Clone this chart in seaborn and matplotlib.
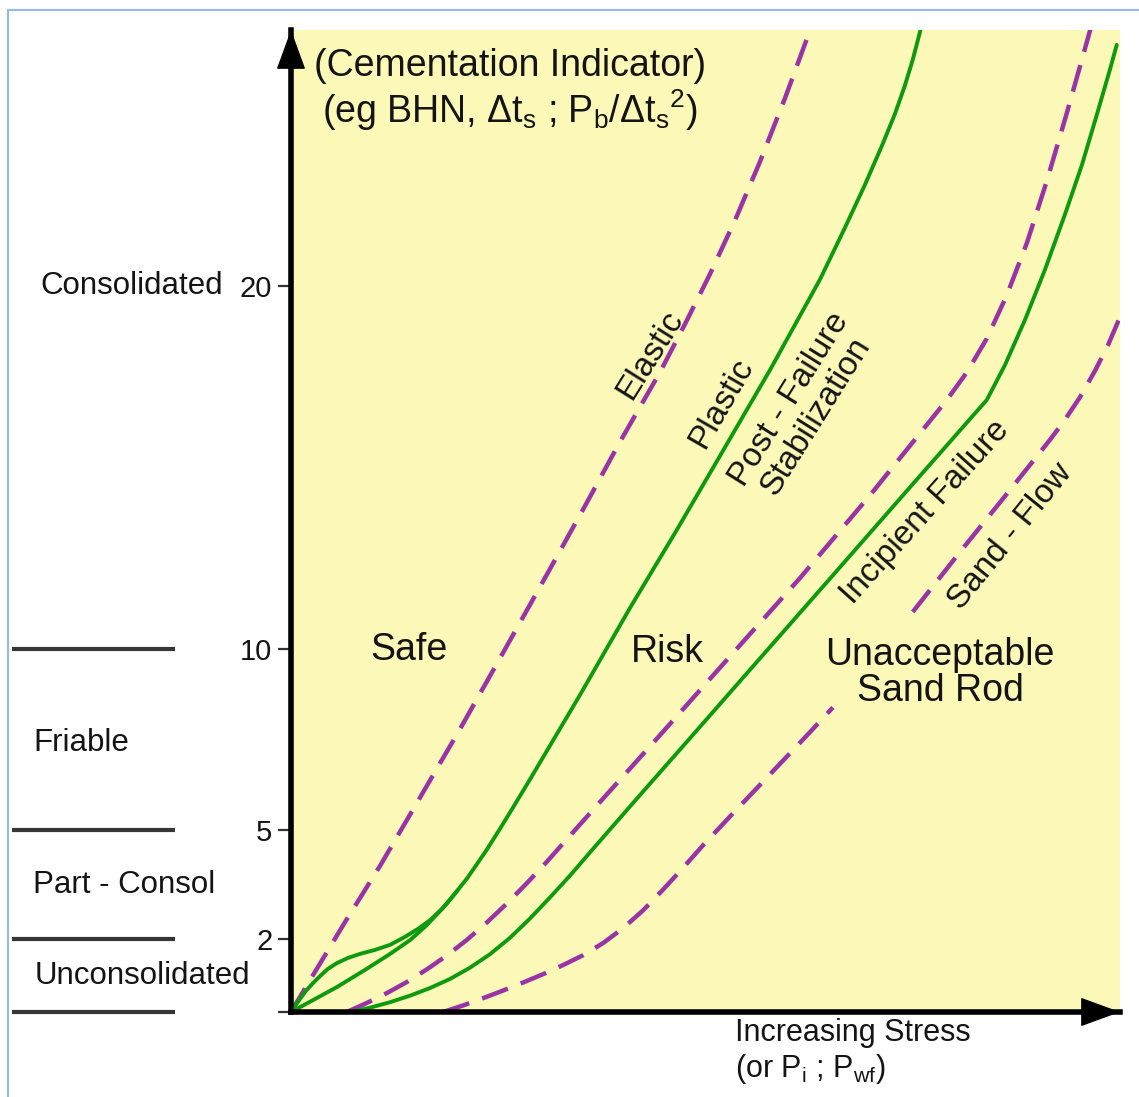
import numpy as np
import pandas as pd
import matplotlib
matplotlib.use("Agg")
import matplotlib.pyplot as plt
from matplotlib.lines import Line2D
from matplotlib.patches import ArrowStyle
import seaborn as sns

# ---------------- data (arbitrary stress units vs cementation indicator) ----------------
elastic_x = [0, 0.61, 1.49, 2.45, 3.55, 4.66, 5.76, 6.86, 8.04, 9.06, 10.17, 10.85, 11.54, 12.23,
             12.92, 13.61, 14.35]
elastic_y = [0, 1.02, 2.48, 4.02, 5.90, 7.80, 9.75, 11.71, 13.83, 15.70, 17.63, 18.94, 20.32, 21.80,
             23.42, 25.17, 27.18]

loop_x = [0, 0.11, 0.25, 0.41, 0.61, 0.80, 1.02, 1.27, 1.57, 1.90, 2.31, 2.73, 3.14, 3.50, 3.83,
          4.16, 4.44, 4.60]
loop_y = [0, 0.17, 0.36, 0.58, 0.80, 0.99, 1.19, 1.35, 1.49, 1.60, 1.71, 1.85, 2.07, 2.29, 2.53,
          2.84, 3.17, 3.36]

plastic_x = [0, 0.52, 1.27, 2.04, 2.73, 3.28, 3.75, 4.02, 4.30, 4.57, 4.85, 5.12, 5.40, 5.76, 6.17,
             6.58, 7.96, 9.34, 10.63, 11.82, 13.20, 14.57, 15.26, 15.81, 16.28, 16.64, 16.91, 17.13,
             17.33, 17.47]
plastic_y = [0, 0.28, 0.69, 1.16, 1.60, 1.98, 2.40, 2.69, 2.99, 3.33, 3.68, 4.07, 4.48, 5.05, 5.72,
             6.40, 8.73, 11.13, 13.28, 15.32, 17.69, 20.17, 21.60, 22.78, 23.86, 24.74, 25.51, 26.23,
             27.00, 27.55]

postfail_x = [1.54, 2.09, 2.64, 3.20, 3.75, 4.30, 4.85, 5.40, 5.95, 6.50, 7.05, 7.60, 8.51, 10.17,
              12.09, 14.02, 15.95, 18.07, 18.62, 19.17, 19.72, 20.28, 20.83, 21.38, 21.71, 22.01, 22.23]
postfail_y = [0, 0.25, 0.52, 0.83, 1.18, 1.56, 1.99, 2.47, 2.99, 3.55, 4.14, 4.76, 5.78, 7.63,
              9.79, 11.95, 14.23, 16.86, 17.62, 18.55, 19.74, 21.20, 22.91, 24.78, 25.95, 27.02, 27.80]

incipient_x = [1.63, 2.18, 2.73, 3.28, 3.83, 4.38, 4.93, 5.48, 6.03, 6.58, 7.13, 7.69, 8.24, 9.61,
               11.07, 12.92, 14.93, 17.05, 19.17, 19.67, 20.22, 20.77, 21.32, 21.79, 22.20, 22.56, 22.75]
incipient_y = [0, 0.12, 0.27, 0.45, 0.66, 0.91, 1.22, 1.59, 2.04, 2.57, 3.15, 3.76, 4.40, 5.97,
               7.63, 9.74, 12.03, 14.45, 16.86, 17.82, 19.06, 20.44, 21.96, 23.33, 24.71, 25.95, 26.64]

sandflow_x = [4.19, 4.74, 5.29, 5.84, 6.39, 6.94, 7.49, 8.04, 8.60, 9.15, 9.70, 10.25, 10.80, 11.35,
              12.09, 13.20, 14.30, 14.93,
              17.13, 18.43, 19.81, 20.91, 21.32, 21.74, 22.15, 22.51, 22.89]
sandflow_y = [0, 0.18, 0.38, 0.59, 0.81, 1.04, 1.29, 1.56, 1.90, 2.31, 2.80, 3.37, 3.97, 4.59,
              5.38, 6.55, 7.71, 8.39,
              11.02, 12.67, 14.38, 15.76, 16.31, 16.94, 17.66, 18.37, 19.26]
sandflow_seg = [0] * 18 + [1] * 9   # line is broken behind the "Unacceptable Sand Rod" label

y_ticks = [0, 2, 5, 10, 20]
y_tick_labels = ["", "2", "5", "10", "20"]

class_bounds = [0, 2, 5, 10]
class_names = ["Unconsolidated", "Part - Consol", "Friable", "Consolidated"]
class_label_y = [1.0, 3.5, 7.4, 20.0]
class_label_x = [-0.3088, -0.3112, -0.3112, -0.3028]

region_names = ["Safe", "Risk", "Unacceptable\nSand Rod"]
region_x = [3.25, 10.36, 17.88]
region_y = [9.97, 9.92, 9.34]

curve_labels = ["Elastic", "Plastic", "Post - Failure\nStabilization", "Incipient Failure", "Sand - Flow"]
curve_label_x = [9.89, 11.87, 14.10, 17.47, 19.81]
curve_label_y = [18.10, 16.78, 16.64, 13.77, 13.09]
curve_label_rot = [58, 60, 58, 48, 51]

X_MAX, Y_MAX = 22.84, 27.05

# ---------------- style ----------------
sns.set_style("white")
plt.rcParams['font.family'] = ['Liberation Sans', 'DejaVu Sans']
plt.rcParams['mathtext.default'] = 'regular'

GREEN = "#0E9A0E"
PURPLE = "#9A34A6"
YELLOW = "#FBF8B8"
TXT = "#141414"

fig = plt.figure(figsize=(11.39, 10.97), dpi=100)
ax = fig.add_axes([291 / 1139, 85 / 1097, 829 / 1139, 982 / 1097])
ax.set_facecolor(YELLOW)

def frame(xs, ys, seg=None):
    return pd.DataFrame({"x": xs, "y": ys, "seg": seg if seg is not None else [0] * len(xs)})

dash = (0, (6.2, 3.1))
curves = [
    (frame(elastic_x, elastic_y), PURPLE, dash, 3.2),
    (frame(loop_x, loop_y), GREEN, "-", 2.8),
    (frame(plastic_x, plastic_y), GREEN, "-", 2.8),
    (frame(postfail_x, postfail_y), PURPLE, dash, 3.2),
    (frame(incipient_x, incipient_y), GREEN, "-", 2.8),
    (frame(sandflow_x, sandflow_y, sandflow_seg), PURPLE, dash, 3.2),
]
for df, col, ls, lw in curves:
    sns.lineplot(data=df, x="x", y="y", units="seg", estimator=None, sort=False,
                 color=col, linestyle=ls, linewidth=lw, ax=ax, legend=False,
                 solid_joinstyle="round", dash_joinstyle="round")

ax.set_xlim(0, X_MAX)
ax.set_ylim(0, Y_MAX)
ax.set_xlabel("")
ax.set_ylabel("")
ax.set_xticks([])
ax.set_yticks(y_ticks)
ax.set_yticklabels(y_tick_labels)
ax.tick_params(axis="y", left=True, length=9.5, width=1.6, color="#333333", pad=4,
               labelsize=21, labelcolor=TXT)

for s in ["top", "right"]:
    ax.spines[s].set_visible(False)
for s in ["left", "bottom"]:
    ax.spines[s].set_visible(True)
    ax.spines[s].set_color("black")
    ax.spines[s].set_linewidth(4)
    ax.spines[s].set_zorder(5)

head = ArrowStyle("-|>", head_length=26, head_width=9.5)
for tip, tail in [((0, 1), (0, 0.9)), ((1, 0), (0.9, 0))]:
    ax.annotate("", xy=tip, xycoords="axes fraction", xytext=tail, textcoords="axes fraction",
                arrowprops=dict(arrowstyle=head, color="black", lw=1, shrinkA=0, shrinkB=0,
                                mutation_scale=1), annotation_clip=False, zorder=6)

# axis titles
ax.text(6.03, 26.05, "(Cementation Indicator)", fontsize=27, color=TXT, ha="center", va="center")
ax.text(6.03, 24.85, "(eg BHN, \u0394t$_{s}$ ; P$_{b}$/\u0394t$_{s}$$^{2}$)", fontsize=27,
        color=TXT, ha="center", va="center")
xt = ax.get_xaxis_transform()
ax.text(12.23, -0.021, "Increasing Stress", transform=xt, fontsize=22, color=TXT,
        ha="left", va="center")
ax.text(12.23, -0.058, "(or P$_{i}$ ; P$_{wf}$)", transform=xt, fontsize=22, color=TXT,
        ha="left", va="center")

# classification at left
yt = ax.get_yaxis_transform()
for b in class_bounds:
    ax.plot([-0.3366, -0.1399], [b, b], transform=yt, color="#363636", lw=3, clip_on=False,
            solid_capstyle="butt")
for name, xx, yy in zip(class_names, class_label_x, class_label_y):
    ax.text(xx, yy, name, transform=yt, fontsize=22.5, color=TXT, ha="left", va="center")

# region labels
for name, xx, yy in zip(region_names, region_x, region_y):
    ax.text(xx, yy, name, fontsize=27, color=TXT, ha="center", va="center",
            multialignment="center", linespacing=1.0)

# curve labels
for name, xx, yy, r in zip(curve_labels, curve_label_x, curve_label_y, curve_label_rot):
    ax.text(xx, yy, name, fontsize=24, color=TXT, ha="center", va="center", rotation=r,
            rotation_mode="anchor", multialignment="center", linespacing=1.0)

# thin blue border of the original picture
bc = "#94B9EA"
fig.add_artist(Line2D([8 / 1139, 8 / 1139], [0, 1 - 10 / 1097], transform=fig.transFigure,
                      color=bc, lw=1.5))
fig.add_artist(Line2D([8 / 1139, 1], [1 - 10 / 1097, 1 - 10 / 1097], transform=fig.transFigure,
                      color=bc, lw=1.5))

fig.savefig("out.png", dpi=100)
